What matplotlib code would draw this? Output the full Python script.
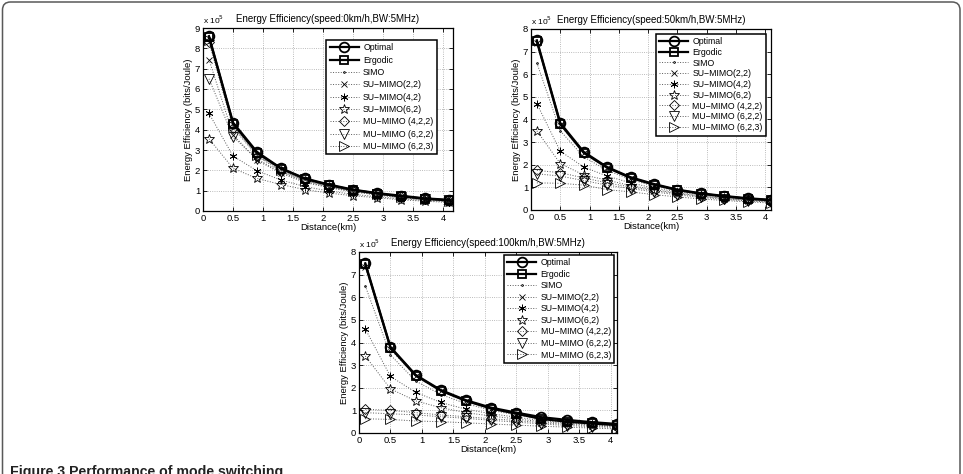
import matplotlib.pyplot as plt
import matplotlib.patches as mpatches

plt.rcParams.update({'font.family': ['Liberation Sans', 'DejaVu Sans'], 'font.size': 6.5})

# distance points (km)
dist = [0.1, 0.5, 0.9, 1.3, 1.7, 2.1, 2.5, 2.9, 3.3, 3.7, 4.1]

labels = ['Optimal', 'Ergodic', 'SIMO', 'SU\u2212MIMO(2,2)', 'SU\u2212MIMO(4,2)', 'SU\u2212MIMO(6,2)',
          'MU\u2212MIMO (4,2,2)', 'MU\u2212MIMO (6,2,2)', 'MU\u2212MIMO (6,2,3)']

# energy efficiency, x 10^5 bits/Joule
# speed 0 km/h
opt_0 = [8.6, 4.35, 2.9, 2.1, 1.6, 1.3, 1.05, 0.88, 0.75, 0.62, 0.55]
erg_0 = [8.55, 4.3, 2.85, 2.08, 1.58, 1.27, 1.03, 0.86, 0.72, 0.6, 0.52]
simo_0 = [8.5, 4.25, 2.8, 2.05, 1.55, 1.25, 1.0, 0.85, 0.7, 0.6, 0.5]
su22_0 = [7.45, 3.75, 2.5, 1.85, 1.4, 1.15, 0.95, 0.78, 0.65, 0.55, 0.48]
su42_0 = [4.8, 2.7, 1.98, 1.52, 1.2, 0.98, 0.82, 0.7, 0.6, 0.52, 0.45]
su62_0 = [3.55, 2.1, 1.6, 1.3, 1.05, 0.88, 0.75, 0.65, 0.55, 0.48, 0.42]
mu422_0 = [8.3, 4.1, 2.7, 1.95, 1.5, 1.2, 0.98, 0.82, 0.7, 0.58, 0.5]
mu622_0 = [6.5, 3.65, 2.55, 1.9, 1.45, 1.15, 0.95, 0.8, 0.68, 0.57, 0.48]
mu623_0 = [8.4, 4.2, 2.75, 2.0, 1.5, 1.2, 0.98, 0.82, 0.7, 0.58, 0.5]

# speed 50 km/h
opt_50 = [7.5, 3.85, 2.57, 1.9, 1.45, 1.15, 0.9, 0.74, 0.62, 0.52, 0.45]
erg_50 = [7.45, 3.8, 2.53, 1.87, 1.42, 1.12, 0.88, 0.72, 0.6, 0.5, 0.43]
simo_50 = [6.5, 3.5, 2.35, 1.75, 1.35, 1.05, 0.85, 0.7, 0.58, 0.48, 0.41]
su22_50 = [7.4, 3.75, 2.5, 1.85, 1.4, 1.1, 0.87, 0.71, 0.59, 0.49, 0.42]
su42_50 = [4.7, 2.6, 1.9, 1.5, 1.2, 0.97, 0.8, 0.66, 0.55, 0.47, 0.4]
su62_50 = [3.5, 2.05, 1.55, 1.32, 1.08, 0.9, 0.75, 0.62, 0.52, 0.44, 0.38]
mu422_50 = [1.75, 1.65, 1.42, 1.2, 1.02, 0.86, 0.72, 0.6, 0.5, 0.43, 0.37]
mu622_50 = [1.6, 1.5, 1.3, 1.1, 0.95, 0.8, 0.67, 0.56, 0.47, 0.4, 0.35]
mu623_50 = [1.2, 1.18, 1.1, 0.9, 0.8, 0.68, 0.58, 0.49, 0.42, 0.36, 0.31]

# speed 100 km/h
opt_100 = [7.5, 3.8, 2.57, 1.9, 1.45, 1.12, 0.9, 0.7, 0.58, 0.48, 0.4]
erg_100 = [7.45, 3.77, 2.54, 1.87, 1.42, 1.08, 0.85, 0.62, 0.5, 0.42, 0.35]
simo_100 = [6.5, 3.45, 2.3, 1.7, 1.3, 1.0, 0.8, 0.62, 0.5, 0.42, 0.35]
su22_100 = [7.35, 3.7, 2.5, 1.85, 1.4, 1.08, 0.85, 0.66, 0.53, 0.44, 0.37]
su42_100 = [4.6, 2.5, 1.8, 1.35, 1.05, 0.85, 0.7, 0.55, 0.45, 0.38, 0.32]
su62_100 = [3.4, 1.95, 1.42, 1.12, 0.9, 0.75, 0.62, 0.5, 0.42, 0.35, 0.3]
mu422_100 = [1.05, 1.0, 0.9, 0.8, 0.72, 0.63, 0.55, 0.45, 0.38, 0.32, 0.27]
mu622_100 = [0.9, 0.85, 0.8, 0.72, 0.65, 0.56, 0.48, 0.4, 0.33, 0.28, 0.24]
mu623_100 = [0.63, 0.6, 0.53, 0.5, 0.45, 0.4, 0.35, 0.3, 0.26, 0.22, 0.18]

xticks = [0, 0.5, 1, 1.5, 2, 2.5, 3, 3.5, 4]
xtick_labels = ['0', '0.5', '1', '1.5', '2', '2.5', '3', '3.5', '4']

markers = ['o', 's', '.', 'x', (6, 2, 0), '*', 'D', 'v', '>']
msizes = [7, 6, 2.5, 4.5, 5.5, 7, 5.5, 7, 7]


def panel(ax, series, ymax, title, xmax, leg_anchor, leg_fs, leg_space):
    for i, (y, lab) in enumerate(zip(series, labels)):
        if i < 2:
            ax.plot(dist, y, '-', color='black', lw=1.6, marker=markers[i], ms=msizes[i],
                    mfc='none', mew=1.3, label=lab, zorder=4)
        else:
            ax.plot(dist, y, ':', color='0.35', lw=0.7, marker=markers[i], ms=msizes[i],
                    mfc='none', mec='black', mew=0.6, label=lab, zorder=3)
    ax.set_xlim(0, xmax)
    ax.set_ylim(0, ymax)
    ax.set_xticks(xticks)
    ax.set_xticklabels(xtick_labels)
    ax.set_yticks(range(ymax + 1))
    ax.grid(True, linestyle=':', color='0.65', lw=0.6)
    ax.tick_params(direction='in', top=True, right=True, length=3, width=0.6, pad=2,
                   labelsize=6.8)
    for s in ax.spines.values():
        s.set_linewidth(0.9)
    ax.set_title(title, fontsize=7, pad=4)
    ax.set_xlabel('Distance(km)', fontsize=6.8, labelpad=0.5)
    ax.set_ylabel('Energy Efficiency (bits/Joule)', fontsize=6.8, labelpad=1)
    ax.text(0.0, 1.012, 'x 10$^5$', transform=ax.transAxes, fontsize=6, ha='left', va='bottom')
    leg = ax.legend(loc='upper right', bbox_to_anchor=leg_anchor, fontsize=leg_fs,
                    handlelength=3.3, handletextpad=0.5, labelspacing=leg_space,
                    borderpad=0.4, borderaxespad=0, fancybox=False, framealpha=1)
    leg.get_frame().set_edgecolor('black')
    leg.get_frame().set_linewidth(1.1)


fig = plt.figure(figsize=(9.63, 4.74), dpi=100)
W, H = 963.0, 474.0

ax1 = fig.add_axes([203 / W, 1 - 211 / H, 250 / W, 183 / H])
panel(ax1, [opt_0, erg_0, simo_0, su22_0, su42_0, su62_0, mu422_0, mu622_0, mu623_0],
      9, 'Energy Efficiency(speed:0km/h,BW:5MHz)', 4.16, (0.936, 0.935), 6.3, 0.38)

ax2 = fig.add_axes([531 / W, 1 - 210 / H, 240 / W, 181 / H])
panel(ax2, [opt_50, erg_50, simo_50, su22_50, su42_50, su62_50, mu422_50, mu622_50, mu623_50],
      8, 'Energy Efficiency(speed:50km/h,BW:5MHz)', 4.1, (0.98, 0.975), 6.3, 0.2)

ax3 = fig.add_axes([359 / W, 1 - 433 / H, 258 / W, 181 / H])
panel(ax3, [opt_100, erg_100, simo_100, su22_100, su42_100, su62_100, mu422_100, mu622_100, mu623_100],
      8, 'Energy Efficiency(speed:100km/h,BW:5MHz)', 4.1, (0.99, 0.985), 6.3, 0.29)

# outer frame of the figure page
frame = mpatches.FancyBboxPatch((0.025, -0.5), 9.575, 5.22,
                                boxstyle='round,pad=0,rounding_size=0.08',
                                transform=fig.dpi_scale_trans, fill=False,
                                edgecolor='0.35', lw=1.1)
fig.patches.append(frame)

# caption, its lower part cut off by the bottom edge as in the page scan
fig.text(10 / W, 1 - 465 / H, 'Figure 3 Performance of mode switching', fontsize=10.2,
         fontweight='bold', ha='left', va='top', color='#222222')

fig.savefig('out.png', dpi=100)
